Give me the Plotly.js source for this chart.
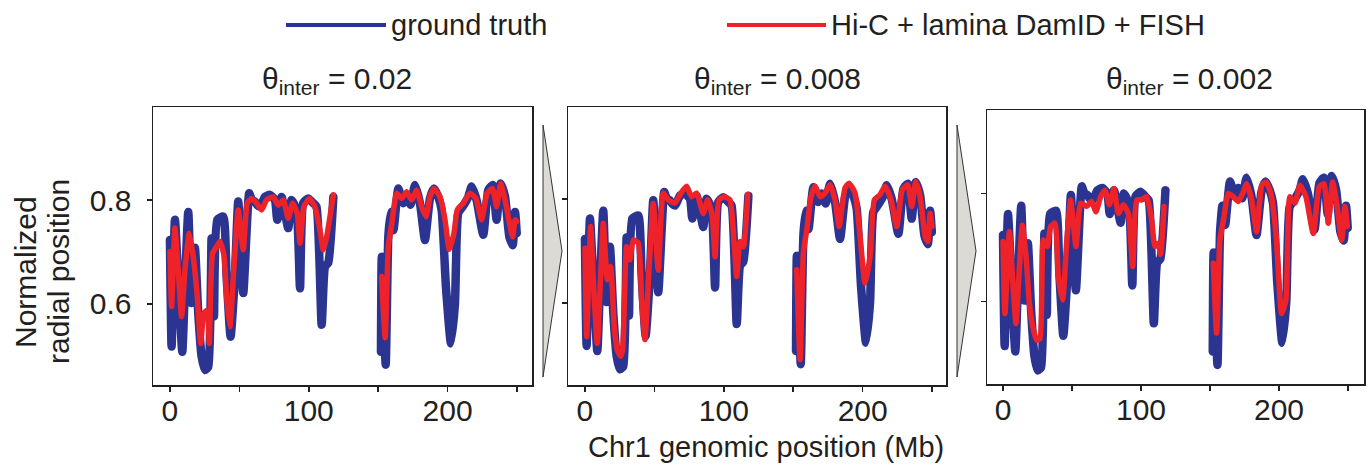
<!DOCTYPE html>
<html>
<head>
<meta charset="utf-8">
<script src="https://cdn.plot.ly/plotly-3.0.1.min.js"></script>
<style>
html,body{margin:0;padding:0;background:#fff;}
#chart{width:1370px;height:465px;}
#chart path.js-line{stroke-linejoin:round !important;stroke-linecap:round !important;}
</style>
</head>
<body>
<div id="chart"></div>
<script>
// ---------------- DATA (Mb positions, normalized radial position) ----------------
const panelTitles = ["0.02", "0.008", "0.002"];
const xTickVals = [0, 100, 200];
const xTickText = ["0", "100", "200"];
const yTickVals = [0.6, 0.8];
const yTickText = ["0.6", "0.8"];

// ground truth (same in all panels)
const gtLeftPos = [0, 1.2, 3.6, 6, 8.9, 10.8, 13.2, 15.6, 18, 20.4, 22.8, 25.2, 27.6, 30, 31.7, 34.1, 38.4, 40.8, 43.7, 46.8, 49.2, 52.8, 57.1, 59, 61.2, 63, 64.8, 66.5, 68.4, 72, 75.6, 77.3, 80.4, 85.2, 87.6, 91.2, 93.7, 96, 99.6, 103.2, 105.6, 109.3, 111.7, 114, 117.7];
const gtLeftVal = [0.723, 0.518, 0.762, 0.646, 0.508, 0.633, 0.777, 0.602, 0.708, 0.582, 0.499, 0.473, 0.479, 0.726, 0.576, 0.762, 0.768, 0.654, 0.537, 0.654, 0.797, 0.621, 0.813, 0.800, 0.797, 0.790, 0.787, 0.795, 0.806, 0.810, 0.800, 0.762, 0.806, 0.746, 0.800, 0.781, 0.630, 0.794, 0.803, 0.794, 0.787, 0.560, 0.672, 0.679, 0.806];
const gtRightPos = [152, 152.6, 155.4, 157.3, 159, 161, 164.5, 168.1, 170.5, 173.4, 176.5, 180.1, 183.7, 187.3, 190.2, 193.3, 195.7, 198.8, 202.4, 205.3, 207.7, 210.8, 214.9, 217.3, 220.9, 225.7, 229.3, 232.4, 235.3, 238.2, 241.4, 244.5, 246.9, 248.6, 249.8];
const gtRightVal = [0.508, 0.691, 0.483, 0.729, 0.777, 0.742, 0.822, 0.794, 0.810, 0.791, 0.829, 0.794, 0.723, 0.803, 0.822, 0.806, 0.781, 0.633, 0.524, 0.601, 0.775, 0.787, 0.806, 0.826, 0.800, 0.733, 0.819, 0.829, 0.762, 0.832, 0.806, 0.729, 0.713, 0.777, 0.736];

// Hi-C + lamina DamID + FISH, theta_inter = 0.02
const p1LeftPos = [0, 1.2, 3.6, 6, 8.4, 10.8, 13.9, 16.8, 19.7, 22.1, 24.5, 26.9, 28.3, 30.7, 33.6, 36, 38.9, 40.8, 43.2, 46.1, 49.2, 52.8, 55.7, 58.8, 62.4, 66, 69.6, 74.4, 78, 81.6, 85.2, 88.4, 91.7, 93.7, 96.5, 100.4, 104.4, 107.6, 110.5, 112.9, 117.7];
const p1LeftVal = [0.701, 0.595, 0.746, 0.665, 0.576, 0.665, 0.736, 0.690, 0.614, 0.524, 0.582, 0.588, 0.524, 0.697, 0.710, 0.720, 0.694, 0.614, 0.556, 0.671, 0.781, 0.704, 0.794, 0.803, 0.794, 0.781, 0.800, 0.806, 0.790, 0.800, 0.765, 0.794, 0.774, 0.717, 0.787, 0.803, 0.787, 0.749, 0.704, 0.729, 0.810];
const p1RightPos = [152.5, 155, 157.3, 159.8, 163.3, 166.9, 170.5, 174.1, 177.7, 181.3, 184.5, 187.3, 190.2, 194.5, 198.1, 201.2, 204.6, 207, 211.3, 216.1, 220.4, 224.5, 228.5, 232.4, 235.3, 238.2, 241.4, 245, 246.9, 248.6, 249.8];
const p1RightVal = [0.653, 0.535, 0.710, 0.755, 0.813, 0.803, 0.816, 0.800, 0.819, 0.787, 0.768, 0.806, 0.822, 0.806, 0.762, 0.705, 0.736, 0.781, 0.794, 0.813, 0.803, 0.762, 0.813, 0.822, 0.787, 0.832, 0.800, 0.749, 0.729, 0.762, 0.759];

// theta_inter = 0.008
const p2LeftPos = [0, 1.2, 4.1, 6.5, 8.9, 11.5, 13.2, 16.1, 18.5, 21.1, 23.3, 25.7, 27.1, 30, 32.4, 34.8, 38.4, 40.8, 43.2, 46.1, 49.2, 52.8, 56.4, 60, 64.8, 69.1, 73.2, 76.8, 80.4, 85.2, 88.4, 91.7, 93.7, 96.5, 100.4, 104.4, 107.6, 109.3, 111.7, 114.1, 117.2];
const p2LeftVal = [0.705, 0.536, 0.747, 0.619, 0.523, 0.663, 0.753, 0.645, 0.670, 0.555, 0.510, 0.498, 0.510, 0.708, 0.683, 0.721, 0.715, 0.607, 0.530, 0.663, 0.791, 0.663, 0.811, 0.798, 0.792, 0.811, 0.824, 0.804, 0.811, 0.772, 0.798, 0.766, 0.689, 0.798, 0.804, 0.798, 0.708, 0.651, 0.718, 0.708, 0.808];
const p2RightPos = [152.5, 154.9, 157.3, 159.7, 162.8, 165.7, 169.3, 172.9, 176.5, 180.1, 183, 187.3, 190.2, 194.5, 198.1, 201.7, 205.3, 208.4, 212.5, 216.1, 220.4, 224.5, 228.5, 232.4, 235.3, 238.2, 241.4, 245, 246.9, 248.6, 249.8];
const p2RightVal = [0.664, 0.492, 0.696, 0.740, 0.804, 0.824, 0.804, 0.811, 0.827, 0.798, 0.747, 0.821, 0.830, 0.811, 0.728, 0.638, 0.689, 0.798, 0.808, 0.824, 0.798, 0.747, 0.817, 0.827, 0.785, 0.833, 0.804, 0.728, 0.718, 0.772, 0.747];

// theta_inter = 0.002
const p3LeftPos = [0, 1.4, 4.6, 7, 9.4, 11.8, 14, 16.7, 19.1, 21.5, 24.4, 26.8, 29.2, 32.1, 34.5, 37.7, 40.1, 43.2, 46.1, 49, 52.9, 56.3, 60.6, 64.2, 67.3, 70.8, 73.9, 77.1, 80.4, 83.6, 87.2, 90.8, 94, 96.9, 100.5, 104.1, 107.7, 110.1, 112.6, 114.2, 116.7];
const p3LeftVal = [0.711, 0.578, 0.729, 0.640, 0.560, 0.658, 0.741, 0.683, 0.597, 0.554, 0.529, 0.532, 0.714, 0.702, 0.739, 0.745, 0.646, 0.603, 0.708, 0.788, 0.702, 0.782, 0.776, 0.785, 0.766, 0.794, 0.806, 0.779, 0.809, 0.763, 0.779, 0.763, 0.665, 0.788, 0.788, 0.794, 0.751, 0.702, 0.708, 0.687, 0.776];
const p3RightPos = [152.4, 154.8, 157.2, 160, 163.3, 166.9, 170.5, 174.2, 176.6, 180.2, 183.8, 187.5, 190.6, 194.1, 197.8, 201.9, 205, 207.9, 211.5, 215.2, 219.5, 224.8, 229.2, 232.6, 235.7, 238.9, 241.8, 245.4, 247.8, 249.5];
const p3RightVal = [0.671, 0.542, 0.714, 0.754, 0.800, 0.794, 0.785, 0.803, 0.818, 0.788, 0.729, 0.815, 0.821, 0.800, 0.726, 0.578, 0.603, 0.794, 0.782, 0.815, 0.794, 0.726, 0.812, 0.818, 0.745, 0.821, 0.782, 0.714, 0.776, 0.739];

// ---------------- BUILD ----------------
const W = 1370, H = 465;
const BLUE = "#2b3591", RED = "#ee2229", INK = "#231f20";
const FONT = "Liberation Sans, Arial, Helvetica, sans-serif";

function joinArms(lp, lv, rp, rv) {
  return { x: lp.concat([135]).concat(rp), y: lv.concat([null]).concat(rv) };
}
const gt = joinArms(gtLeftPos, gtLeftVal, gtRightPos, gtRightVal);
const preds = [
  joinArms(p1LeftPos, p1LeftVal, p1RightPos, p1RightVal),
  joinArms(p2LeftPos, p2LeftVal, p2RightPos, p2RightVal),
  joinArms(p3LeftPos, p3LeftVal, p3RightPos, p3RightVal)
];

// panel pixel boxes [left, right, top, bottom] and ranges
const boxes = [[153, 532, 107, 385], [568, 946, 107, 385], [987, 1364, 110, 384]];
const xRanges = [[-12.2, 260.8], [-12.2, 260.0], [-11.6, 261.6]];
const yRanges = [[0.444, 0.979], [0.443, 0.976], [0.448, 0.954]];
const titleX = [337, 777, 1189];

const traces = [];
const layout = {
  width: W, height: H,
  margin: { l: 0, r: 0, t: 0, b: 0 },
  paper_bgcolor: "#fff", plot_bgcolor: "#fff",
  showlegend: false,
  font: { family: FONT, size: 30, color: INK },
  annotations: [], shapes: []
};

for (let i = 0; i < 3; i++) {
  const s = i === 0 ? "" : String(i + 1);
  traces.push({ type: "scatter", mode: "lines", name: "ground truth", x: gt.x, y: gt.y,
    xaxis: "x" + s, yaxis: "y" + s, connectgaps: false,
    line: { color: BLUE, width: 8.5, shape: "spline", smoothing: 0.5 }, hoverinfo: "skip" });
  traces.push({ type: "scatter", mode: "lines", name: "Hi-C + lamina DamID + FISH", x: preds[i].x, y: preds[i].y,
    xaxis: "x" + s, yaxis: "y" + s, connectgaps: false,
    line: { color: RED, width: 5.5, shape: "spline", smoothing: 0.5 }, hoverinfo: "skip" });
  const b = boxes[i];
  const common = { showgrid: false, zeroline: false, showline: true, mirror: true,
    linecolor: INK, linewidth: 1.5, ticks: "outside", ticklen: 5, tickwidth: 1.5,
    tickcolor: INK, tickfont: { family: FONT, size: 30, color: INK }, automargin: false, fixedrange: true };
  layout["xaxis" + s] = Object.assign({}, common, {
    domain: [b[0] / W, b[1] / W], range: xRanges[i], anchor: "y" + s,
    tickmode: "array", tickvals: xTickVals, ticktext: xTickText, ticklabelstandoff: -7,
    minor: { tick0: 0, dtick: 50, ticks: "outside", ticklen: 5, tickwidth: 1.5, tickcolor: INK, showgrid: false } });
  layout["yaxis" + s] = Object.assign({}, common, {
    domain: [1 - b[3] / H, 1 - b[2] / H], range: yRanges[i], anchor: "x" + s,
    tickmode: "array", tickvals: yTickVals, ticktext: yTickText,
    showticklabels: i === 0, ticklabelstandoff: 9 });
  layout.annotations.push({ xref: "paper", yref: "paper", x: titleX[i] / W, y: 1 - 80 / H,
    xanchor: "center", yanchor: "middle", showarrow: false,
    text: "θ<sub>inter</sub> = " + panelTitles[i], font: { family: FONT, size: 30, color: INK } });
}

// axis titles
layout.annotations.push({ xref: "paper", yref: "paper", x: 766 / W, y: 1 - 447 / H,
  xanchor: "center", yanchor: "middle", showarrow: false,
  text: "Chr1 genomic position (Mb)", font: { family: FONT, size: 29, color: INK } });
layout.annotations.push({ xref: "paper", yref: "paper", x: 25 / W, y: 1 - 272 / H,
  xanchor: "center", yanchor: "middle", showarrow: false, textangle: -90,
  text: "Normalized", font: { family: FONT, size: 30, color: INK } });
layout.annotations.push({ xref: "paper", yref: "paper", x: 58 / W, y: 1 - 272 / H,
  xanchor: "center", yanchor: "middle", showarrow: false, textangle: -90,
  text: "radial position", font: { family: FONT, size: 30, color: INK } });

// legend (drawn at the top)
const legendItems = [
  { name: "ground truth", color: BLUE, x0: 286, x1: 386 },
  { name: "Hi-C + lamina DamID + FISH", color: RED, x0: 727, x1: 826 }
];
legendItems.forEach(function (it) {
  layout.shapes.push({ type: "line", xref: "paper", yref: "paper",
    x0: it.x0 / W, x1: it.x1 / W, y0: 1 - 25 / H, y1: 1 - 25 / H,
    line: { color: it.color, width: 4 } });
  layout.annotations.push({ xref: "paper", yref: "paper", x: (it.x1 + 3) / W, y: 1 - 25 / H,
    xanchor: "left", yanchor: "middle", showarrow: false, text: it.name,
    font: { family: FONT, size: 29, color: INK } });
});

// grey arrows between panels
[543, 957].forEach(function (ax) {
  const p = "M " + (ax / W) + "," + (1 - 125 / H) + " L " + ((ax + 19) / W) + "," + (1 - 251 / H) +
            " L " + (ax / W) + "," + (1 - 377 / H) + " Z";
  layout.shapes.push({ type: "path", xref: "paper", yref: "paper", path: p,
    fillcolor: "#dcdad5", line: { color: "#333", width: 1 } });
});

Plotly.newPlot("chart", traces, layout, { staticPlot: true, displayModeBar: false });
</script>
</body>
</html>
